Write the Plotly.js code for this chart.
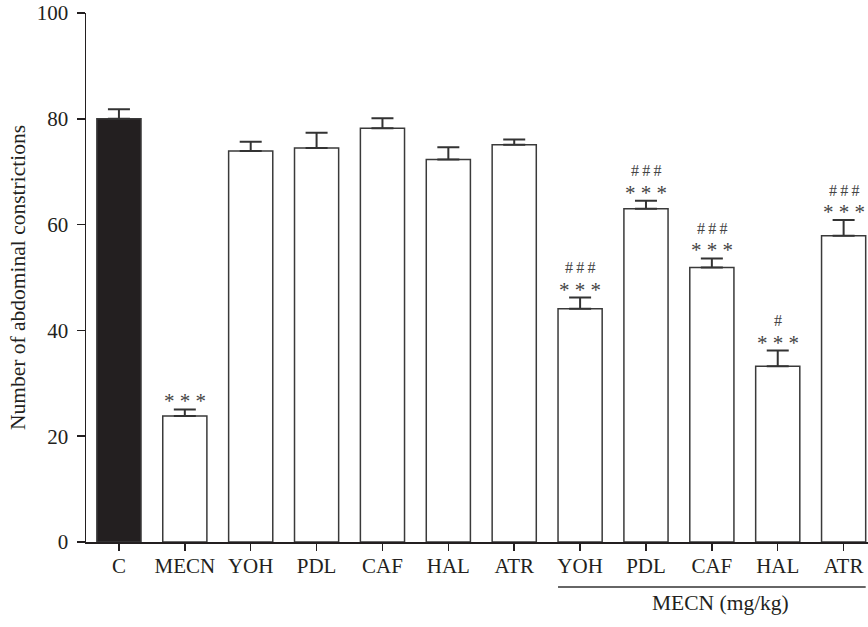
<!DOCTYPE html>
<html>
<head>
<meta charset="utf-8">
<script src="https://cdn.plot.ly/plotly-3.0.1.min.js"></script>
<style>html,body{margin:0;padding:0;background:#fff;}#chart{width:868px;height:627px;}</style>
</head>
<body>
<div id="chart"></div>
<script>
// ---- data ----
const groupLabels = ["C", "MECN", "YOH", "PDL", "CAF", "HAL", "ATR", "YOH", "PDL", "CAF", "HAL", "ATR"];
const meanValues  = [80.0, 23.8, 73.9, 74.5, 78.2, 72.3, 75.1, 44.1, 63.0, 51.9, 33.2, 57.9];
const semValues   = [1.8, 1.25, 1.75, 2.85, 1.9, 2.3, 1.0, 2.1, 1.5, 1.7, 3.0, 2.95];
const starMarks   = ["", "***", "", "", "", "", "", "***", "***", "***", "***", "***"];
const hashMarks   = ["", "", "", "", "", "", "", "###", "###", "###", "#", "###"];
const groupTitle  = "MECN (mg/kg)";
const yTitle      = "Number of abdominal constrictions";

const ink = "#231f20";
const FONT = "Liberation Serif, Times New Roman, serif";
const xIdx = groupLabels.map((_, i) => i);
const barW = 0.67;

const fills = groupLabels.map((_, i) => i === 0 ? ink : "#ffffff");

const trace = {
  type: "bar",
  x: xIdx,
  y: meanValues,
  width: barW,
  marker: { color: fills, line: { color: "#3a3a3a", width: 1.5 } },
  error_y: {
    type: "data", symmetric: false,
    array: semValues, arrayminus: semValues.map(() => 0),
    color: "#333333", thickness: 2, width: 11
  },
  hoverinfo: "skip"
};

const annotations = [];
const spaced = s => s.split("").join(" ");
xIdx.forEach(i => {
  const top = meanValues[i] + semValues[i];
  if (starMarks[i]) annotations.push({
    x: i, y: top, xref: "x", yref: "y", text: spaced(starMarks[i]), showarrow: false,
    yanchor: "middle", yshift: 8, font: { family: FONT, size: 21, color: "#444" }
  });
  if (hashMarks[i]) annotations.push({
    x: i, y: top, xref: "x", yref: "y", text: spaced(hashMarks[i]).replace(/ /g, "\u2009"), showarrow: false,
    yanchor: "middle", yshift: 30, font: { family: FONT, size: 16, color: "#444" }
  });
});
annotations.push({
  x: 9, y: -0.115, xref: "x", yref: "paper", text: groupTitle, showarrow: false,
  xshift: 9, yanchor: "middle", font: { family: FONT, size: 21.5, color: ink }
});

const layout = {
  width: 868, height: 627,
  margin: { l: 86, r: 0, t: 13, b: 85 },
  paper_bgcolor: "#fff", plot_bgcolor: "#fff",
  showlegend: false,
  font: { family: FONT, color: ink, size: 21 },
  xaxis: {
    range: [-0.5, 11.37],
    tickmode: "array", tickvals: xIdx, ticktext: groupLabels,
    showgrid: false, zeroline: false,
    showline: true, linecolor: ink, linewidth: 1.5,
    ticks: "outside", ticklen: 7, tickwidth: 1.5, tickcolor: ink,
    ticklabelstandoff: -3,
    tickfont: { family: FONT, size: 21, color: ink },
    fixedrange: true
  },
  yaxis: {
    range: [0, 100],
    tickvals: [0, 20, 40, 60, 80, 100],
    showgrid: false, zeroline: false,
    showline: true, linecolor: ink, linewidth: 1.5,
    ticks: "outside", ticklen: 8, tickwidth: 1.5, tickcolor: ink,
    ticklabelstandoff: 4,
    tickfont: { family: FONT, size: 21, color: ink },
    title: { text: yTitle, standoff: 5, font: { family: FONT, size: 21.5, color: ink } },
    fixedrange: true
  },
  shapes: [{
    type: "line", xref: "x", yref: "paper",
    x0: 7 - barW / 2, x1: 11 + barW / 2, y0: -0.085, y1: -0.085,
    line: { color: "#333", width: 1.5 }
  }],
  annotations: annotations
};

Plotly.newPlot("chart", [trace], layout, { displayModeBar: false, staticPlot: true });
</script>
</body>
</html>
